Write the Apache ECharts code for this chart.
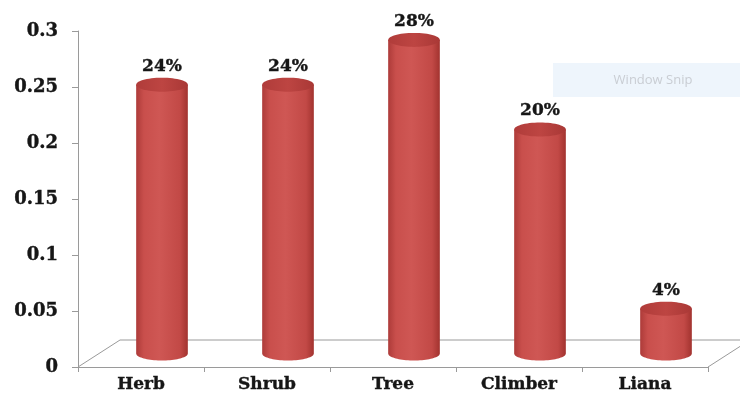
<!DOCTYPE html>
<html>
<head>
<meta charset="utf-8">
<script src="https://cdn.jsdelivr.net/npm/echarts@6/dist/echarts.min.js"></script>
<style>
  html, body { margin: 0; padding: 0; background: #fff; }
  #chart { width: 740px; height: 400px; }
</style>
</head>
<body>
<div id="chart"></div>
<script>
// Growth-form shares of the recorded species
const categories = ['Herb', 'Shrub', 'Tree', 'Climber', 'Liana'];
const shares = [0.24, 0.24, 0.28, 0.20, 0.04];
const yTicks = { min: 0, max: 0.3, interval: 0.05 };

// Plot area and the depth of the pseudo-3D floor
const GRID = { left: 78, right: 32, top: 31, bottom: 33 };
const DEPTH_X = 42, DEPTH_Y = -27;
const W = 740, H = 400;
const SERIF = '"DejaVu Serif", "Liberation Serif", serif';
const INK = '#161616';

function ellipsePts(cx, cy, rx, ry, a0, a1, n) {
  const pts = [];
  for (let i = 0; i <= n; i++) {
    const a = a0 + (a1 - a0) * i / n;
    pts.push([cx + rx * Math.cos(a), cy + ry * Math.sin(a)]);
  }
  return pts;
}

function renderCylinder(params, api) {
  const idx = api.value(0);
  const v = api.value(1);
  const top = api.coord([idx, v]);
  const base = api.coord([idx, 0]);
  const rx = api.size([1, 0])[0] * 0.205;
  const ry = 7;
  const cx = top[0] + DEPTH_X / 2;
  const yT = top[1] + DEPTH_Y / 2;
  const yB = base[1] + DEPTH_Y / 2;

  const body = [[cx - rx, yT], [cx - rx, yB]]
    .concat(ellipsePts(cx, yB, rx, ry, Math.PI, 0, 40))
    .concat([[cx + rx, yT]]);
  const cap = ellipsePts(cx, yT, rx, ry, 0, Math.PI * 2, 60);

  return {
    type: 'group',
    children: [
      {
        type: 'polygon',
        shape: { points: body },
        style: {
          fill: new echarts.graphic.LinearGradient(0, 0, 1, 0, [
            { offset: 0, color: '#ad3b39' },
            { offset: 0.15, color: '#c94f4c' },
            { offset: 0.45, color: '#cf5754' },
            { offset: 0.85, color: '#c24946' },
            { offset: 1, color: '#a2332f' }
          ])
        }
      },
      {
        type: 'polygon',
        shape: { points: cap },
        style: {
          fill: new echarts.graphic.LinearGradient(0, 0, 1, 0, [
            { offset: 0, color: '#b03c3a' },
            { offset: 0.5, color: '#bd4542' },
            { offset: 1, color: '#a93836' }
          ])
        }
      },
      {
        type: 'text',
        x: cx,
        y: yT - ry - 3,
        style: {
          text: Math.round(v * 100) + '%',
          fill: INK,
          font: 'bold 17px ' + SERIF,
          stroke: INK,
          lineWidth: 0.4,
          align: 'center',
          verticalAlign: 'bottom'
        }
      }
    ]
  };
}

const chart = echarts.init(document.getElementById('chart'), null, { renderer: 'canvas' });

const x0 = GRID.left, x1 = W - GRID.right;
const yBase = H - GRID.bottom;

chart.setOption({
  backgroundColor: '#ffffff',
  animation: false,
  grid: GRID,
  xAxis: {
    type: 'category',
    data: categories,
    axisLine: { show: true, lineStyle: { color: '#9a9a9a', width: 1 } },
    axisTick: { show: true, length: 5, lineStyle: { color: '#9a9a9a' } },
    axisLabel: {
      color: INK, fontFamily: SERIF, fontWeight: 'bold', fontSize: 17, margin: 9,
      textBorderColor: INK, textBorderWidth: 0.4
    },
    splitLine: { show: false }
  },
  yAxis: {
    type: 'value',
    min: yTicks.min,
    max: yTicks.max,
    interval: yTicks.interval,
    axisLine: { show: true, lineStyle: { color: '#9a9a9a', width: 1 } },
    axisTick: { show: true, length: 6, lineStyle: { color: '#9a9a9a' } },
    axisLabel: {
      color: INK, fontFamily: SERIF, fontWeight: 'bold', fontSize: 18, margin: 20,
      textBorderColor: INK, textBorderWidth: 0.4
    },
    splitLine: { show: false }
  },
  graphic: [
    // floor of the 3D plot area
    {
      type: 'polyline',
      z: 0,
      shape: { points: [[x0, yBase], [x0 + DEPTH_X, yBase + DEPTH_Y], [x1 + DEPTH_X, yBase + DEPTH_Y], [x1, yBase]] },
      style: { stroke: '#9a9a9a', lineWidth: 1, fill: null }
    },
    // screen-capture tool banner
    {
      type: 'rect',
      z: 0,
      shape: { x: 553, y: 63, width: 190, height: 34 },
      style: { fill: '#eef5fc' }
    },
    {
      type: 'text',
      z: 1,
      x: 653, y: 80,
      style: {
        text: 'Window Snip',
        fill: '#c9cdd3',
        font: '13px "Open Sans", "DejaVu Sans", sans-serif',
        align: 'center',
        verticalAlign: 'middle'
      }
    }
  ],
  series: [{
    type: 'custom',
    renderItem: renderCylinder,
    encode: { x: 0, y: 1 },
    data: categories.map((c, i) => [i, shares[i]]),
    z: 5
  }]
});
</script>
</body>
</html>
